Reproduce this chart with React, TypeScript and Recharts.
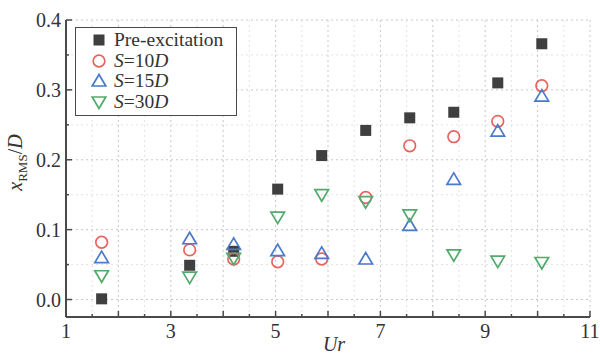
import { ScatterChart, Scatter, XAxis, YAxis, CartesianGrid, Legend } from 'recharts'

// reduced velocity Ur
const ur = [1.68, 3.36, 4.2, 5.04, 5.88, 6.72, 7.56, 8.4, 9.24, 10.08]
// x_RMS / D
const preExcitation = [0.001, 0.049, 0.069, 0.158, 0.206, 0.242, 0.26, 0.268, 0.31, 0.366]
const s10D = [0.082, 0.071, 0.058, 0.054, 0.058, 0.146, 0.22, 0.233, 0.255, 0.306]
const s15D = [0.06, 0.087, 0.079, 0.07, 0.066, 0.058, 0.106, 0.172, 0.241, 0.291]
const s30D = [0.034, 0.032, 0.059, 0.118, 0.15, 0.14, 0.121, 0.064, 0.055, 0.053]

const xTicks = [1, 1.5, 2, 2.5, 3, 3.5, 4, 4.5, 5, 5.5, 6, 6.5, 7, 7.5, 8, 8.5, 9, 9.5, 10, 10.5, 11]
const xLabels = [1, 3, 5, 7, 9, 11]
const xMajor = [1, 2, 3, 4, 5, 6, 7, 8, 9, 10, 11]
const xMinor = [1.5, 2.5, 3.5, 4.5, 5.5, 6.5, 7.5, 8.5, 9.5, 10.5]
const yTicks = [0, 0.05, 0.1, 0.15, 0.2, 0.25, 0.3, 0.35, 0.4]
const yLabels = [0, 0.1, 0.2, 0.3, 0.4]
const yMinor = [0.05, 0.15, 0.25, 0.35]

const FONT = '"Liberation Serif", "Times New Roman", serif'
const AXIS = '#4a4a4a'

const toPoints = (vals: number[]) => ur.map((x, i) => ({ x, y: vals[i] }))

const Square = ({ cx, cy }: any) => <rect x={cx - 5.5} y={cy - 5.5} width={11} height={11} fill="#3f3f3f" />
const Circle = ({ cx, cy }: any) => <circle cx={cx} cy={cy} r={5.8} fill="none" stroke="#e8625c" strokeWidth={1.7} />
const TriUp = ({ cx, cy }: any) => (
  <polygon points={`${cx},${cy - 6.5} ${cx - 6.8},${cy + 5} ${cx + 6.8},${cy + 5}`} fill="none" stroke="#4a7ac9" strokeWidth={1.7} />
)
const TriDown = ({ cx, cy }: any) => (
  <polygon points={`${cx},${cy + 6.5} ${cx - 6.8},${cy - 5} ${cx + 6.8},${cy - 5}`} fill="none" stroke="#52aa6c" strokeWidth={1.7} />
)

const series = [
  { key: 'pre', name: 'Pre-excitation', data: preExcitation, shape: Square },
  { key: 's10', name: 'S=10D', data: s10D, shape: Circle },
  { key: 's15', name: 'S=15D', data: s15D, shape: TriUp },
  { key: 's30', name: 'S=30D', data: s30D, shape: TriDown },
]

const SName = ({ name }: { name: string }) => {
  if (!name.startsWith('S=')) return <span>{name}</span>
  return (
    <span>
      <i>S</i>={name.slice(2, -1)}<i>D</i>
    </span>
  )
}

const LegendBox = () => (
  <div
    style={{
      boxSizing: 'border-box',
      border: `1.5px solid ${AXIS}`,
      background: '#fff',
      padding: '2px 4px 3px 12px',
      fontFamily: FONT,
      fontSize: 19.5,
      color: '#333',
      lineHeight: '20.5px',
      width: 162,
    }}
  >
    {series.map((s) => {
      const Shape = s.shape
      return (
        <div key={s.key} style={{ display: 'flex', alignItems: 'center' }}>
          <svg width={22} height={20} style={{ marginRight: 4 }}>
            <Shape cx={11} cy={10} />
          </svg>
          <SName name={s.name} />
        </div>
      )
    })}
  </div>
)

const makeXTick = (side: 'bottom' | 'top') => (props: any) => {
  const { x, y, payload } = props
  const v = payload.value
  const len = xMajor.includes(v) ? 6 : 3
  const dir = side === 'bottom' ? -1 : 1
  return (
    <g>
      <line x1={x} x2={x} y1={y} y2={y + dir * len} stroke={AXIS} strokeWidth={1.5} />
      {side === 'bottom' && xLabels.includes(v) && (
        <text x={x} y={y + 21} textAnchor="middle" fontFamily={FONT} fontSize={20} fill="#333">
          {v}
        </text>
      )}
    </g>
  )
}

const makeYTick = (side: 'left' | 'right') => (props: any) => {
  const { x, y, payload } = props
  const v = payload.value
  const len = yLabels.includes(v) ? 6 : 3
  const dir = side === 'left' ? 1 : -1
  return (
    <g>
      <line x1={x} x2={x + dir * len} y1={y} y2={y} stroke={AXIS} strokeWidth={1.5} />
      {side === 'left' && yLabels.includes(v) && (
        <text x={x - 5} y={y + 7} textAnchor="end" fontFamily={FONT} fontSize={20} fill="#333">
          {v.toFixed(1)}
        </text>
      )}
    </g>
  )
}

const YTitle = (props: any) => {
  const vb = props.viewBox
  const cx = vb.x + 16
  const cy = vb.y + vb.height / 2 - 6
  return (
    <text transform={`translate(${cx},${cy}) rotate(-90)`} textAnchor="middle" fontFamily={FONT} fontSize={20} fill="#333">
      <tspan fontStyle="italic">x</tspan>
      <tspan fontSize={13} dy={5}>RMS</tspan>
      <tspan dy={-5}>/</tspan>
      <tspan fontStyle="italic">D</tspan>
    </text>
  )
}

const XTitle = (props: any) => {
  const vb = props.viewBox
  return (
    <text x={vb.x + vb.width / 2 + 6} y={vb.y + 34} textAnchor="middle" fontFamily={FONT} fontSize={20} fontStyle="italic" fill="#333">
      Ur
    </text>
  )
}

export default function App() {
  return (
    <div style={{ position: 'absolute', left: 0, top: 0, background: '#fff' }}>
      <ScatterChart width={600} height={356} margin={{ top: 20, right: 10, bottom: 0, left: 6 }}>
        <CartesianGrid
          horizontalValues={yMinor}
          verticalValues={xMinor}
          stroke="#e3e3e3"
          strokeDasharray="2 3"
        />
        <CartesianGrid
          horizontalValues={yLabels}
          verticalValues={xMajor}
          stroke="#c8c8c8"
          strokeDasharray="2 3"
        />
        <XAxis
          type="number"
          dataKey="x"
          domain={[1, 11]}
          ticks={xTicks}
          interval={0}
          height={39}
          tickSize={0}
          tickMargin={0}
          tickLine={false}
          tick={makeXTick('bottom')}
          axisLine={{ stroke: AXIS, strokeWidth: 2 }}
          allowDataOverflow
          label={<XTitle />}
        />
        <XAxis
          xAxisId="top"
          orientation="top"
          type="number"
          domain={[1, 11]}
          ticks={xTicks}
          interval={0}
          height={0}
          tickSize={0}
          tickMargin={0}
          tickLine={false}
          tick={makeXTick('top')}
          axisLine={{ stroke: AXIS, strokeWidth: 2 }}
          allowDataOverflow
        />
        <YAxis
          type="number"
          dataKey="y"
          domain={[-0.025, 0.4]}
          ticks={yTicks}
          interval={0}
          width={60}
          tickSize={0}
          tickMargin={0}
          tickLine={false}
          tick={makeYTick('left')}
          axisLine={{ stroke: AXIS, strokeWidth: 2 }}
          allowDataOverflow
          label={<YTitle />}
        />
        <YAxis
          yAxisId="right"
          orientation="right"
          type="number"
          domain={[-0.025, 0.4]}
          ticks={yTicks}
          interval={0}
          width={0}
          tickSize={0}
          tickMargin={0}
          tickLine={false}
          tick={makeYTick('right')}
          axisLine={{ stroke: AXIS, strokeWidth: 2 }}
          allowDataOverflow
        />
        <Legend
          layout="vertical"
          align="center"
          verticalAlign="middle"
          wrapperStyle={{ left: 75, top: 27, width: 'auto' }}
          content={() => <LegendBox />}
        />
        {series.map((s) => (
          <Scatter key={s.key} name={s.name} data={toPoints(s.data)} shape={s.shape} isAnimationActive={false} />
        ))}
      </ScatterChart>
    </div>
  )
}
